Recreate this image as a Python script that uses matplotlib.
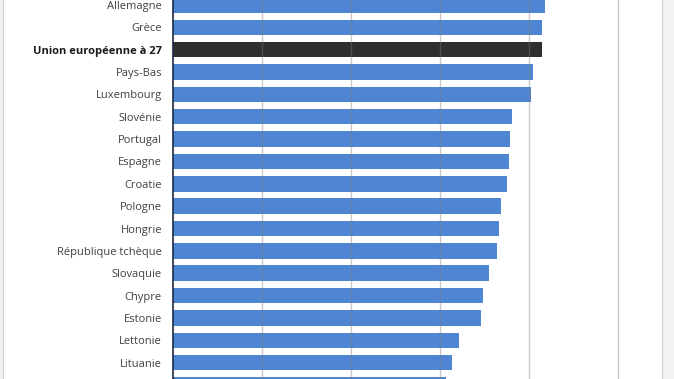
import matplotlib.pyplot as plt
from matplotlib.patches import Rectangle

pays = ["Allemagne", "Grèce", "Union européenne à 27", "Pays-Bas", "Luxembourg",
        "Slovénie", "Portugal", "Espagne", "Croatie", "Pologne", "Hongrie",
        "République tchèque", "Slovaquie", "Chypre", "Estonie", "Lettonie",
        "Lituanie", "Roumanie"]
valeurs = [41.8, 41.5, 41.5, 40.4, 40.2, 38.1, 37.9, 37.8, 37.5, 36.9, 36.6,
           36.4, 35.5, 34.8, 34.6, 32.1, 31.3, 30.7]

couleurs = ["#2f2f2f" if p == "Union européenne à 27" else "#4f86d4" for p in pays]

fig = plt.figure(figsize=(6.74, 3.79), dpi=100)
fig.patch.set_facecolor("#f2f2f2")
# white panel behind the chart
fig.patches.append(Rectangle((3 / 674, -0.01), (662 - 3) / 674, 1.02, transform=fig.transFigure,
                             facecolor="white", edgecolor="#d0d0d0", linewidth=0.8, zorder=-5))

ax = fig.add_axes([173 / 674, 0, (662 - 173) / 674, 1])
ax.set_facecolor("none")
y = list(range(len(pays)))
ax.barh(y, valeurs, height=0.69, color=couleurs, zorder=2)

ax.set_xlim(0, (662 - 173) / 89 * 10)
ax.set_ylim((379 - 5) / 22.35, -5 / 22.35)
ax.set_xticks([10, 20, 30, 40, 50])
ax.set_axisbelow(False)
ax.xaxis.grid(True, color="#7a7a7a", alpha=0.4, linewidth=1.0)
ax.tick_params(axis="x", length=0, labelbottom=False)
ax.tick_params(axis="y", length=0, pad=8)
# the last row is cut by the frame, its label is not shown
ax.set_yticks(y[:-1])
ax.set_yticklabels(pays[:-1], fontsize=8, color="#404040", family="Open Sans")
for lab in ax.get_yticklabels():
    if lab.get_text() == "Union européenne à 27":
        lab.set_fontweight("bold")
        lab.set_color("#1a1a1a")

for s in ["top", "right", "bottom"]:
    ax.spines[s].set_visible(False)
ax.spines["left"].set_color("#1f2a44")
ax.spines["left"].set_linewidth(1.2)
ax.spines["left"].set_zorder(3)

fig.savefig("out.png", dpi=100, facecolor=fig.get_facecolor())
